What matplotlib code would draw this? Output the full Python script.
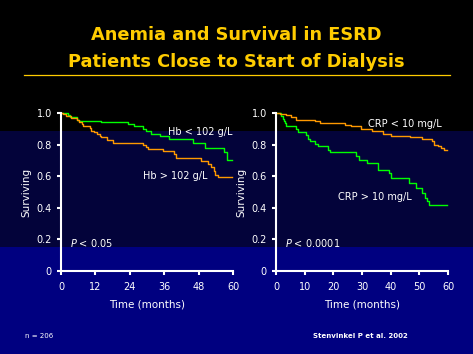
import matplotlib
matplotlib.use("Agg")
import matplotlib.pyplot as plt
import matplotlib.patches as mpatches

# left panel: Hb groups
hb_low_t = [0, 2.4, 3.2, 5.7, 6.4, 13.8, 23.4, 25.5, 28.7, 29.5, 31.4, 34.5, 37.7, 46.2, 50.2, 56.9, 58.0, 59.8]
hb_low_s = [1.0, 0.989, 0.973, 0.958, 0.947, 0.941, 0.930, 0.916, 0.900, 0.888, 0.869, 0.852, 0.835, 0.810, 0.778, 0.751, 0.705, 0.705]

hb_high_t = [0, 0.7, 1.9, 3.6, 5.7, 6.4, 7.2, 7.7, 10.0, 10.6, 11.5, 12.5, 13.5, 14.1, 16.1, 18.1,
             28.6, 29.5, 30.5, 35.6, 39.5, 40.2, 48.8, 51.4, 52.3, 53.2, 53.8, 54.6, 59.8]
hb_high_s = [1.0, 0.993, 0.982, 0.968, 0.958, 0.943, 0.930, 0.916, 0.905, 0.888, 0.877, 0.867, 0.856, 0.846, 0.829, 0.812,
             0.795, 0.785, 0.775, 0.757, 0.741, 0.715, 0.698, 0.677, 0.656, 0.631, 0.610, 0.595, 0.595]

# right panel: CRP groups
crp_low_t = [0, 1.5, 3.5, 5.3, 7.1, 13.5, 15.2, 24.0, 26.0, 29.8, 33.4, 37.4, 40.2, 46.7, 50.8, 54.3,
             55.2, 56.5, 57.5, 58.5, 59.8]
crp_low_s = [1.0, 0.995, 0.990, 0.975, 0.958, 0.947, 0.937, 0.926, 0.916, 0.900, 0.884, 0.865, 0.855, 0.846, 0.837, 0.821,
             0.800, 0.789, 0.778, 0.768, 0.768]

crp_high_t = [0, 1.7, 2.3, 2.8, 3.3, 3.6, 7.1, 7.8, 10.6, 11.3, 12.0, 13.5, 14.5, 18.1, 19.0, 27.8, 29.0,
              31.9, 35.7, 39.5, 40.2, 46.5, 49.0, 50.8, 52.0, 52.8, 53.4, 59.8]
crp_high_s = [1.0, 0.980, 0.965, 0.950, 0.937, 0.916, 0.900, 0.880, 0.859, 0.837, 0.821, 0.804, 0.789, 0.768, 0.753, 0.726, 0.705,
              0.684, 0.640, 0.620, 0.590, 0.557, 0.525, 0.494, 0.462, 0.445, 0.420, 0.420]

y_ticks = [0, 0.2, 0.4, 0.6, 0.8, 1.0]
y_labels = ['0', '0.2', '0.4', '0.6', '0.8', '1.0']
left_xticks = [0, 12, 24, 36, 48, 60]
right_xticks = [0, 10, 20, 30, 40, 50, 60]

W, H = 473, 354
GOLD = '#ffcc00'
GREEN = '#00ff00'
ORANGE = '#ff9900'

fig = plt.figure(figsize=(W / 100, H / 100), dpi=100)
fig.patch.set_facecolor('black')

# background bands
def band(y0, y1, color):
    fig.patches.append(mpatches.Rectangle((0, 1 - y1 / H), 1, (y1 - y0) / H,
                                          transform=fig.transFigure, facecolor=color,
                                          edgecolor='none', zorder=-10))

band(0, 131, '#000000')
band(131, 247, '#03033a')
band(247, H, '#000080')

# title
fig.text(0.5, 1 - 35 / H, 'Anemia and Survival in ESRD', color=GOLD, fontsize=12.8,
         fontweight='bold', ha='center', va='center', family='DejaVu Sans')
fig.text(0.5, 1 - 62 / H, 'Patients Close to Start of Dialysis', color=GOLD, fontsize=12.8,
         fontweight='bold', ha='center', va='center', family='DejaVu Sans')
fig.add_artist(plt.Line2D([24 / W, 450 / W], [1 - 75 / H, 1 - 75 / H], color=GOLD, lw=0.9))


def make_axes(x0, xticks, curves, labels, ptext):
    ax = fig.add_axes([x0 / W, (H - 271) / H, 172 / W, 158 / H])
    ax.set_facecolor('none')
    for t, s, c in curves:
        ax.step(t, s, where='post', color=c, lw=1.0, clip_on=False)
    ax.set_xlim(0, 60)
    ax.set_ylim(0, 1.0)
    ax.set_xticks(xticks)
    ax.set_yticks(y_ticks)
    ax.set_yticklabels(y_labels)
    for side in ['top', 'right']:
        ax.spines[side].set_visible(False)
    for side in ['left', 'bottom']:
        ax.spines[side].set_color('white')
        ax.spines[side].set_linewidth(1.5)
    ax.tick_params(colors='white', labelsize=7, length=3, width=1.5, direction='out')
    ax.tick_params(axis='x', pad=5)
    ax.set_ylabel('Surviving', color='white', fontsize=7.5, labelpad=4)
    ax.set_xlabel('Time (months)', color='white', fontsize=7.5, labelpad=5)
    for txt, x, y in labels:
        ax.text(x, y, txt, color='white', fontsize=7, ha='left', va='center')
    ax.text(3.2, 0.18, ptext, color='white', fontsize=7, ha='left', va='center')
    return ax


make_axes(61, left_xticks,
          [(hb_low_t, hb_low_s, GREEN), (hb_high_t, hb_high_s, ORANGE)],
          [('Hb < 102 g/L', 37.2, 0.88), ('Hb > 102 g/L', 28.5, 0.60)],
          '$P$ < 0.05')
make_axes(276, right_xticks,
          [(crp_high_t, crp_high_s, GREEN), (crp_low_t, crp_low_s, ORANGE)],
          [('CRP < 10 mg/L', 32.0, 0.93), ('CRP > 10 mg/L', 21.5, 0.47)],
          '$P$ < 0.0001')

fig.text(25 / W, 1 - 336 / H, 'n = 206', color='white', fontsize=5, ha='left', va='center')
fig.text(313 / W, 1 - 336 / H, 'Stenvinkel P et al. 2002', color='white', fontsize=5,
         fontweight='bold', ha='left', va='center')

fig.savefig('out.png', dpi=100, facecolor=fig.get_facecolor())
